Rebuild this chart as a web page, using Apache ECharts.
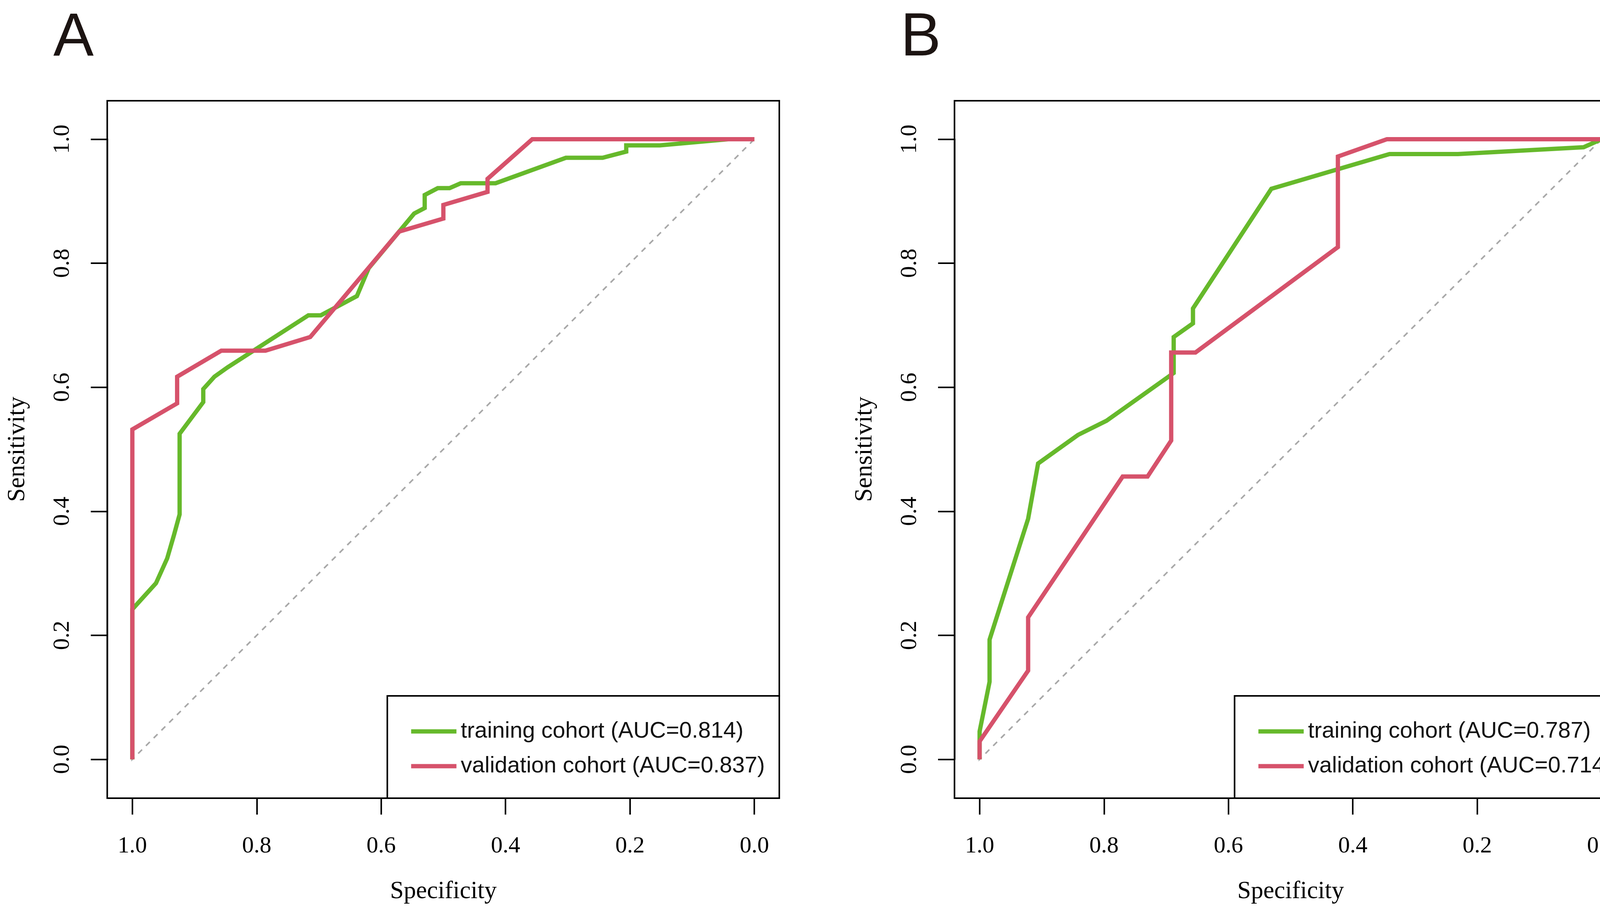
<!DOCTYPE html>
<html>
<head>
<meta charset="utf-8">
<script src="https://cdn.jsdelivr.net/npm/echarts@6/dist/echarts.min.js"></script>
<style>
html,body{margin:0;padding:0;background:#fff;}
#chart{width:4206px;height:2338px;}
</style>
</head>
<body>
<div id="chart"></div>
<script>
// ---------- data (specificity, sensitivity) ----------
const panelLabels = ['A', 'B'];
const seriesNamesA = ['training cohort (AUC=0.814)', 'validation cohort (AUC=0.837)'];
const seriesNamesB = ['training cohort (AUC=0.787)', 'validation cohort (AUC=0.714)'];

const trainA_spec = [1.0, 1.0, 0.962, 0.944, 0.933, 0.924, 0.924, 0.886, 0.886, 0.868, 0.847, 0.717, 0.697, 0.639, 0.620, 0.547, 0.530, 0.530, 0.509, 0.490, 0.472, 0.416, 0.303, 0.244, 0.206, 0.206, 0.152, 0.042, 0.0];
const trainA_sens = [0.0, 0.242, 0.284, 0.324, 0.362, 0.395, 0.525, 0.576, 0.597, 0.617, 0.632, 0.716, 0.716, 0.747, 0.792, 0.880, 0.889, 0.910, 0.921, 0.921, 0.929, 0.929, 0.970, 0.970, 0.980, 0.990, 0.990, 1.0, 1.0];

const validA_spec = [1.0, 1.0, 0.928, 0.928, 0.857, 0.786, 0.714, 0.571, 0.500, 0.500, 0.429, 0.429, 0.357, 0.0];
const validA_sens = [0.0, 0.532, 0.574, 0.617, 0.659, 0.659, 0.681, 0.851, 0.872, 0.894, 0.915, 0.936, 1.0, 1.0];

const trainB_spec = [1.0, 1.0, 0.984, 0.984, 0.922, 0.906, 0.842, 0.796, 0.688, 0.688, 0.657, 0.657, 0.531, 0.341, 0.231, 0.029, 0.0];
const trainB_sens = [0.0, 0.045, 0.125, 0.193, 0.388, 0.477, 0.523, 0.546, 0.623, 0.681, 0.703, 0.727, 0.920, 0.976, 0.976, 0.987, 1.0];

const validB_spec = [1.0, 1.0, 0.922, 0.922, 0.770, 0.730, 0.692, 0.692, 0.653, 0.424, 0.424, 0.345, 0.0];
const validB_sens = [0.0, 0.029, 0.143, 0.229, 0.456, 0.456, 0.514, 0.656, 0.656, 0.826, 0.972, 1.0, 1.0];

// chance line (sens = 1 - spec) across the plotting region
const chanceSpec = [1.0404, -0.0404];
const chanceSens = [-0.0404, 1.0404];

const tickValues = [0, 0.2, 0.4, 0.6, 0.8, 1.0];

// ---------- style / layout ----------
const GREEN = '#66B92B';
const RED = '#D6526B';
const SERIF = 'Liberation Serif';
const SANS = 'Liberation Sans';

const frameLefts = [274.5, 2443.5];
const frameTop = 258;
const frameW = 1720.5;
const frameBottom = 2044;
const dataOffX = 64.3;     // frame left -> spec=1.0
const dataW = 1592.4;
const dataTop = 356.4;     // sens = 1.0
const dataH = 1588.1;      // to sens = 0

function pairs(xs, ys) { return xs.map((x, i) => [x, ys[i]]); }

const grids = [], xAxes = [], yAxes = [], series = [], legends = [], graphics = [];

[[trainA_spec, trainA_sens, validA_spec, validA_sens, seriesNamesA],
 [trainB_spec, trainB_sens, validB_spec, validB_sens, seriesNamesB]].forEach((p, k) => {
  const fl = frameLefts[k];
  grids.push({ left: fl + dataOffX, top: dataTop, width: dataW, height: dataH, containLabel: false });
  xAxes.push({
    gridIndex: k, type: 'value', min: 0, max: 1, interval: 0.2, inverse: true,
    position: 'bottom',
    offset: frameBottom - (dataTop + dataH),
    axisLine: { show: true, onZero: false, lineStyle: { color: '#000', width: 4 } },
    axisTick: { show: true, length: 42, lineStyle: { color: '#000', width: 4 } },
    axisLabel: { margin: 93, fontFamily: SERIF, fontSize: 60, color: '#000', formatter: v => v.toFixed(1) },
    splitLine: { show: false },
    name: 'Specificity', nameLocation: 'middle', nameGap: 208,
    nameTextStyle: { fontFamily: SERIF, fontSize: 63, color: '#000' }
  });
  yAxes.push({
    gridIndex: k, type: 'value', min: 0, max: 1, interval: 0.2,
    position: 'left',
    offset: dataOffX,
    axisLine: { show: true, onZero: false, lineStyle: { color: '#000', width: 4 } },
    axisTick: { show: true, length: 42, lineStyle: { color: '#000', width: 4 } },
    axisLabel: { margin: 84, rotate: 90, fontFamily: SERIF, fontSize: 60, color: '#000', formatter: v => v.toFixed(1) },
    splitLine: { show: false },
    name: 'Sensitivity', nameLocation: 'middle', nameGap: 198,
    nameTextStyle: { fontFamily: SERIF, fontSize: 63, color: '#000' }
  });
  series.push({
    type: 'line', xAxisIndex: k, yAxisIndex: k, data: pairs(chanceSpec, chanceSens),
    symbol: 'none', clip: false, silent: true,
    lineStyle: { color: '#A8A8A8', width: 4, type: [14, 14] }, z: 1
  });
  series.push({
    name: p[4][0], type: 'line', xAxisIndex: k, yAxisIndex: k, data: pairs(p[0], p[1]),
    symbol: 'none', lineStyle: { color: GREEN, width: 11, join: 'miter' }, itemStyle: { color: GREEN }, z: 2
  });
  series.push({
    name: p[4][1], type: 'line', xAxisIndex: k, yAxisIndex: k, data: pairs(p[2], p[3]),
    symbol: 'none', lineStyle: { color: RED, width: 11, join: 'miter' }, itemStyle: { color: RED }, z: 3
  });
  legends.push({
    data: p[4], orient: 'vertical', left: fl + 773, top: 1837,
    icon: 'rect', itemWidth: 116, itemHeight: 11, itemGap: 27,
    textStyle: { fontFamily: SANS, fontSize: 58, lineHeight: 62, color: '#111', padding: [0, 0, 0, 6] },
    selectedMode: false
  });
  // plot frame
  graphics.push({
    type: 'rect', silent: true, z: 10,
    shape: { x: fl, y: frameTop, width: frameW, height: frameBottom - frameTop },
    style: { fill: 'none', stroke: '#000', lineWidth: 4 }
  });
  // legend box
  graphics.push({
    type: 'rect', silent: true, z: 10,
    shape: { x: fl + 717, y: 1782, width: frameW - 717, height: frameBottom - 1782 },
    style: { fill: 'none', stroke: '#000', lineWidth: 4 }
  });
  // panel letter
  graphics.push({
    type: 'text', silent: true, z: 10, x: fl - 138, y: 99,
    style: { text: panelLabels[k], fontFamily: SANS, fontSize: 155, fill: '#1c1412', verticalAlign: 'middle', align: 'left' }
  });
});

const chart = echarts.init(document.getElementById('chart'), null, { renderer: 'canvas' });
chart.setOption({
  animation: false,
  backgroundColor: '#fff',
  grid: grids,
  xAxis: xAxes,
  yAxis: yAxes,
  legend: legends,
  series: series,
  graphic: graphics
});
</script>
</body>
</html>
